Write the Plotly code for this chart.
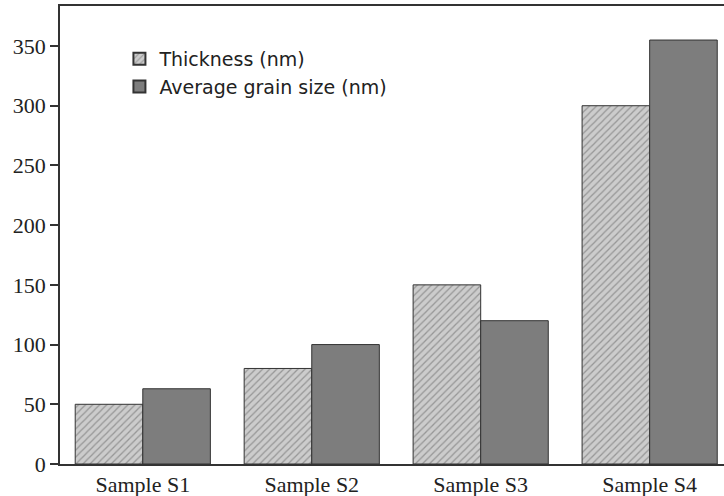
import plotly.graph_objects as go

categories = ["Sample S1", "Sample S2", "Sample S3", "Sample S4"]
thickness = [50, 80, 150, 300]
grain_size = [63, 100, 120, 355]
y_ticks = [0, 50, 100, 150, 200, 250, 300, 350]

fig = go.Figure()
fig.add_trace(go.Bar(
    x=categories, y=thickness, name="Thickness (nm)",
    marker=dict(color="#cfcfcf",
                pattern=dict(shape="/", bgcolor="#cccccc", fgcolor="#5f5f5f", size=5, solidity=0.25),
                line=dict(color="#333333", width=1)),
))
fig.add_trace(go.Bar(
    x=categories, y=grain_size, name="Average grain size (nm)",
    marker=dict(color="#7d7d7d", line=dict(color="#333333", width=1)),
))

fig.update_layout(
    width=724, height=496,
    margin=dict(l=60, r=0, t=6, b=32),
    paper_bgcolor="white", plot_bgcolor="white",
    barmode="group", bargap=0.2, bargroupgap=0,
    showlegend=True,
    legend=dict(x=0.0895, y=0.926, xanchor="left", yanchor="top",
                font=dict(family="DejaVu Sans", size=19, color="#222"),
                bgcolor="rgba(0,0,0,0)", tracegroupgap=0, itemsizing="constant"),
    font=dict(family="Liberation Serif, Times New Roman", size=19, color="#222"),
)
fig.update_xaxes(
    range=[-0.49, 3.44], showline=True, linecolor="#333", linewidth=1.5,
    mirror=True, ticks="", showgrid=False, zeroline=False,
    tickfont=dict(family="Liberation Serif", size=22, color="#222"),
)
fig.update_yaxes(
    range=[0, 383.5], tickvals=y_ticks, showline=True, linecolor="#333", linewidth=1.5,
    ticks="outside", ticklen=8, tickwidth=1.5, tickcolor="#333",
    showgrid=False, zeroline=False,
    tickfont=dict(family="Liberation Serif", size=22, color="#222"),
)

fig.write_html("out.html")
